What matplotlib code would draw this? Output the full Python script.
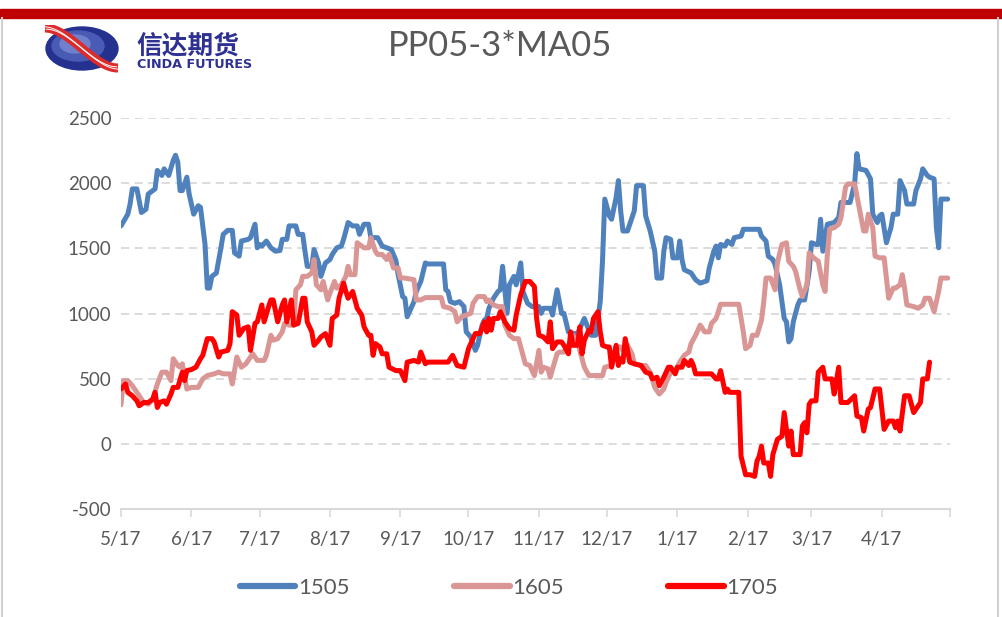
import numpy as np
import pandas as pd
import matplotlib
matplotlib.use("Agg")
import matplotlib.pyplot as plt
from matplotlib.patches import Rectangle, Ellipse
from matplotlib.lines import Line2D

plt.rcParams["font.family"] = ["Lato", "DejaVu Sans"]

start = pd.Timestamp("2014-05-17")

# day offsets from 5/17 and spread values
day_1505 = [0, 3, 4, 5, 7, 9, 11, 12, 14, 15, 16, 18, 19, 21, 23, 24, 25, 26, 27, 29,
            30, 32, 34, 35, 37, 38, 39, 40, 42, 44, 45, 47, 49, 50, 52, 53, 56, 57, 59, 60,
            61, 62, 64, 66, 68, 70, 71, 73, 74, 77, 78, 80, 81, 82, 84, 85, 87, 88, 90, 92,
            93, 95, 97, 98, 100, 102, 104, 105, 107, 109, 110, 113, 115, 117, 119, 121, 122, 124, 125, 126,
            129, 130, 132, 134, 135, 142, 143, 144, 145, 147, 149, 151, 152, 154, 156, 157, 159, 160, 161, 162,
            164, 166, 167, 168, 170, 171, 173, 174, 176, 177, 179, 181, 184, 185, 186, 189, 190, 192, 194, 195,
            197, 198, 201, 204, 206, 207, 209, 211, 212, 213, 215, 216, 218, 219, 220, 221, 223, 226, 227, 230,
            231, 233, 235, 236, 238, 239, 240, 242, 243, 245, 246, 247, 248, 251, 253, 255, 258, 259, 261, 262,
            263, 264, 266, 267, 269, 270, 273, 274, 281, 282, 284, 285, 287, 288, 290, 291, 292, 293, 294, 295,
            296, 298, 299, 301, 303, 304, 306, 307, 308, 309, 311, 314, 316, 317, 321, 323, 324, 325, 328, 330,
            331, 333, 334, 335, 337, 339, 340, 342, 343, 345, 346, 349, 350, 352, 353, 355, 356, 358, 359, 360,
            361, 364]
val_1505 = [1672, 1762, 1840, 1956, 1956, 1775, 1800, 1917, 1943, 1956, 2098, 2059, 2110, 2059, 2175, 2214, 2162, 1943, 1943, 2046,
            1917, 1762, 1827, 1814, 1530, 1195, 1195, 1285, 1311, 1504, 1607, 1638, 1638, 1465, 1440, 1556, 1569, 1582, 1685, 1504,
            1530, 1517, 1556, 1504, 1478, 1483, 1569, 1569, 1672, 1672, 1607, 1607, 1478, 1362, 1362, 1491, 1388, 1285, 1388, 1414,
            1453, 1504, 1517, 1569, 1698, 1672, 1672, 1607, 1685, 1685, 1582, 1582, 1517, 1504, 1491, 1410, 1300, 1130, 1117, 975,
            1091, 1169, 1246, 1388, 1380, 1380, 1182, 1169, 1091, 1078, 1091, 1053, 859, 820, 717, 756, 911, 949, 962, 1040,
            1117, 1169, 1182, 1362, 1001, 1220, 1285, 1220, 1388, 1169, 1078, 1053, 1053, 1001, 1040, 1040, 988, 1182, 1001, 1001,
            859, 846, 846, 962, 872, 833, 833, 1091, 1401, 1878, 1749, 1723, 1891, 2020, 1788, 1633, 1633, 1788, 1981, 1981,
            1749, 1633, 1478, 1272, 1272, 1478, 1582, 1569, 1427, 1427, 1556, 1414, 1336, 1311, 1259, 1233, 1251, 1349, 1478, 1517,
            1427, 1530, 1517, 1556, 1530, 1582, 1594, 1646, 1646, 1594, 1556, 1440, 1414, 1375, 1220, 1091, 962, 936, 782, 807,
            936, 1066, 1104, 1104, 1324, 1543, 1530, 1530, 1723, 1478, 1685, 1698, 1736, 1852, 1852, 1994, 2227, 2110, 2098, 2033,
            1762, 1698, 1749, 1762, 1543, 1659, 1762, 1762, 2020, 1943, 1840, 1840, 1943, 2033, 2110, 2059, 2046, 2033, 1659, 1504,
            1878, 1878]

day_1605 = [0, 1, 3, 5, 8, 10, 12, 14, 16, 18, 20, 22, 23, 25, 26, 27, 29, 31, 34, 36,
            38, 41, 43, 45, 48, 49, 51, 53, 55, 58, 60, 63, 64, 66, 67, 69, 71, 72, 74, 76,
            77, 79, 80, 82, 84, 85, 86, 88, 89, 91, 92, 94, 95, 97, 99, 100, 101, 103, 104, 107,
            109, 110, 112, 113, 115, 117, 118, 120, 122, 123, 125, 129, 130, 132, 134, 141, 142, 145, 147, 148,
            150, 152, 154, 155, 157, 160, 161, 162, 164, 166, 168, 169, 171, 173, 175, 176, 178, 180, 182, 183,
            184, 185, 186, 188, 189, 190, 192, 193, 195, 197, 199, 201, 204, 206, 212, 213, 216, 218, 220, 221,
            223, 225, 226, 229, 231, 233, 235, 237, 239, 240, 242, 244, 246, 248, 250, 251, 253, 254, 255, 257,
            259, 260, 262, 263, 264, 272, 274, 275, 277, 278, 280, 282, 283, 284, 286, 288, 289, 291, 293, 294,
            296, 297, 299, 300, 302, 303, 305, 307, 309, 310, 311, 312, 314, 316, 317, 319, 320, 323, 325, 327,
            328, 329, 331, 332, 334, 336, 337, 338, 340, 341, 343, 344, 345, 346, 349, 351, 353, 354, 356, 358,
            359, 360, 361, 364]
val_1605 = [300, 485, 485, 446, 369, 317, 304, 343, 459, 550, 550, 485, 653, 601, 588, 614, 420, 433, 433, 498,
            524, 537, 550, 537, 537, 459, 666, 588, 614, 691, 640, 640, 679, 833, 795, 807, 859, 924, 911, 911,
            1182, 1220, 1285, 1285, 1311, 1414, 1220, 1182, 1246, 1104, 1156, 1246, 1195, 1220, 1285, 1362, 1298, 1298, 1543, 1504,
            1504, 1582, 1478, 1453, 1453, 1414, 1453, 1349, 1349, 1272, 1272, 1259, 1104, 1104, 1122, 1122, 1053, 1040, 1014, 936,
            975, 988, 1001, 1078, 1130, 1130, 1091, 1104, 1066, 1053, 1053, 911, 833, 807, 807, 743, 614, 601, 524, 620,
            717, 550, 588, 575, 511, 575, 691, 704, 704, 756, 833, 782, 588, 524, 524, 588, 601, 743, 743, 717,
            756, 691, 614, 601, 601, 550, 433, 382, 420, 472, 550, 562, 627, 679, 704, 769, 833, 872, 911, 859,
            859, 924, 962, 1014, 1071, 1071, 859, 730, 756, 833, 833, 949, 1091, 1272, 1272, 1182, 1388, 1530, 1543, 1401,
            1362, 1324, 1182, 1130, 1220, 1465, 1427, 1401, 1220, 1169, 1453, 1646, 1659, 1685, 1736, 1969, 1994, 1994, 1814, 1633,
            1633, 1762, 1659, 1440, 1427, 1427, 1272, 1117, 1195, 1195, 1220, 1298, 1195, 1066, 1053, 1040, 1066, 1117, 1117, 1014,
            1091, 1169, 1272, 1272]

day_1705 = [0, 2, 3, 5, 7, 8, 10, 12, 14, 15, 16, 17, 19, 20, 22, 23, 25, 27, 28, 29,
            31, 33, 35, 36, 38, 40, 41, 43, 44, 47, 48, 49, 51, 52, 54, 56, 57, 59, 60, 62,
            63, 65, 66, 67, 69, 71, 72, 73, 75, 76, 78, 80, 81, 82, 84, 85, 87, 88, 90, 92,
            93, 95, 96, 98, 99, 100, 102, 103, 104, 106, 107, 109, 110, 111, 112, 114, 115, 117, 118, 121,
            123, 125, 126, 129, 131, 132, 134, 135, 144, 146, 148, 151, 153, 154, 156, 158, 160, 161, 162, 163,
            164, 166, 167, 169, 171, 173, 174, 176, 178, 180, 182, 183, 184, 186, 188, 189, 190, 192, 194, 195,
            197, 198, 199, 201, 202, 203, 204, 206, 207, 208, 210, 211, 212, 214, 215, 216, 218, 219, 220, 221,
            222, 224, 226, 229, 231, 233, 234, 236, 237, 239, 241, 242, 244, 245, 247, 248, 250, 251, 252, 253,
            260, 262, 263, 264, 266, 267, 268, 272, 273, 275, 277, 279, 280, 281, 282, 283, 285, 286, 287, 289,
            291, 292, 294, 295, 296, 299, 300, 301, 302, 303, 304, 306, 307, 309, 310, 313, 314, 316, 317, 320,
            323, 324, 326, 327, 329, 330, 332, 334, 335, 336, 338, 340, 341, 342, 343, 345, 347, 349, 351, 352,
            353, 355, 356]
val_1705 = [421, 459, 395, 369, 330, 292, 317, 317, 343, 395, 279, 317, 330, 304, 382, 433, 433, 550, 485, 562,
            570, 588, 653, 679, 807, 807, 782, 666, 704, 717, 769, 1014, 988, 833, 885, 898, 717, 924, 936, 1066,
            936, 1053, 1104, 1104, 936, 1066, 1104, 936, 1104, 911, 924, 1117, 1117, 936, 859, 756, 795, 820, 846, 756,
            962, 988, 1117, 1233, 1169, 1117, 1169, 1104, 1040, 988, 898, 833, 833, 679, 769, 743, 691, 691, 588, 562,
            562, 485, 627, 640, 627, 704, 614, 627, 627, 679, 601, 588, 730, 769, 846, 846, 936, 859, 962, 872,
            962, 962, 1014, 936, 885, 872, 988, 1143, 1246, 1246, 1207, 962, 833, 820, 782, 936, 730, 782, 782, 756,
            691, 859, 756, 756, 898, 691, 795, 872, 859, 962, 1014, 859, 756, 743, 743, 588, 756, 601, 653, 627,
            807, 627, 614, 601, 550, 537, 498, 511, 446, 511, 588, 588, 537, 588, 588, 640, 601, 640, 601, 537,
            537, 498, 498, 562, 395, 420, 395, 395, -95, -237, -237, -250, -134, -95, -18, -147, -147, -250, -83, 34,
            59, 240, -18, 98, -83, -83, 137, 163, 85, 304, 330, 330, 550, 588, 498, 498, 382, 588, 317, 317,
            369, 214, 201, 98, 266, 279, 421, 421, 266, 111, 175, 175, 124, 175, 98, 369, 369, 240, 292, 317,
            498, 498, 627]

series = [("1505", day_1505, val_1505, "#4F81BD"),
          ("1605", day_1605, val_1605, "#D99694"),
          ("1705", day_1705, val_1705, "#FF0000")]

tick_labels = ["5/17", "6/17", "7/17", "8/17", "9/17", "10/17", "11/17",
               "12/17", "1/17", "2/17", "3/17", "4/17", ""]

W, H = 1002, 617
fig = plt.figure(figsize=(W / 100, H / 100), dpi=100)

# top red band and thin page frame
fig.patches.append(Rectangle((0, 1 - 18 / H), 1, 9 / H, transform=fig.transFigure,
                             color="#C00000", zorder=0))
for xe in [2, 998]:
    fig.add_artist(Line2D([xe / W, xe / W], [0, 1 - 18 / H], transform=fig.transFigure,
                          color="#d0d0d0", lw=1.5))

# logo: blue oval crossed by a red ribbon
lax = fig.add_axes([42 / W, 1 - 73 / H, 80 / W, 48 / H])
lax.set_xlim(0, 80)
lax.set_ylim(0, 48)
lax.axis("off")
lax.add_patch(Ellipse((40, 24.5), 72, 43, color="#24318f"))
lax.add_patch(Ellipse((36, 27), 52, 30, color="#4a5bb5"))
lax.add_patch(Ellipse((33, 29), 30, 18, color="#7080cc"))
t = np.linspace(0, 1, 80)
xs = 3 + 73 * t
ys = 45 - 40 * (3 * t ** 2 - 2 * t ** 3)
lax.plot(xs, ys, color="#dd2a2a", lw=6.5, solid_capstyle="butt")
lax.plot(xs - 1.2, ys + 1.2, color="white", lw=0.7)
lax.plot(xs + 1.2, ys - 1.2, color="white", lw=0.7)

fig.text(136 / W, 1 - 53 / H, "信达期货", fontsize=18.5, color="#2e3192", va="baseline",
         ha="left", fontweight="bold", family=["Noto Sans CJK SC", "DejaVu Sans"])
fig.text(137 / W, 1 - 64.5 / H, "CINDA FUTURES", fontsize=9.2, color="#2e3192", va="center",
         ha="left", fontweight="bold", family=["DejaVu Sans"])

fig.text(500 / W, 1 - 56.5 / H, "PP05-3*MA05", fontsize=24.8, color="#595959",
         ha="center", va="baseline")

ax = fig.add_axes([121 / W, 1 - 509 / H, (950 - 121) / W, (509 - 118) / H])
for name, d, v, c in series:
    x = start + pd.to_timedelta(d, unit="D")
    ax.plot(x, v, color=c, lw=3.6, solid_joinstyle="round", solid_capstyle="round")

ticks = pd.date_range(start, periods=13, freq=pd.DateOffset(months=1))
ax.set_xlim(ticks[0], ticks[-1])
ax.set_xticks(ticks)
ax.set_xticklabels(tick_labels)
ax.set_ylim(-500, 2500)
ax.set_yticks(np.arange(-500, 2501, 500))
ax.set_yticklabels([str(v) for v in range(-500, 2501, 500)])

for yv in range(0, 2501, 500):
    ax.axhline(yv, color="#d9d9d9", lw=1.3, ls=(0, (4.5, 3)), zorder=0)

for s in ["top", "right", "left"]:
    ax.spines[s].set_visible(False)
ax.spines["bottom"].set_color("#d9d9d9")
ax.spines["bottom"].set_linewidth(1.5)
ax.tick_params(axis="x", colors="#595959", length=6, width=1.2, color="#d9d9d9",
               labelsize=13.5, pad=10)
ax.tick_params(axis="y", colors="#595959", length=0, labelsize=13.5, pad=7)

handles = [Line2D([], [], color=c, lw=4.5, solid_capstyle="round") for _, _, _, c in series]
fig.legend(handles, [s[0] for s in series], loc="center", bbox_to_anchor=(0.508, 1 - 588 / H),
           ncol=3, frameon=False, fontsize=16, handlelength=2.5, handletextpad=0.12,
           columnspacing=4.7, labelcolor="#595959")

fig.savefig("out.png", dpi=100)
